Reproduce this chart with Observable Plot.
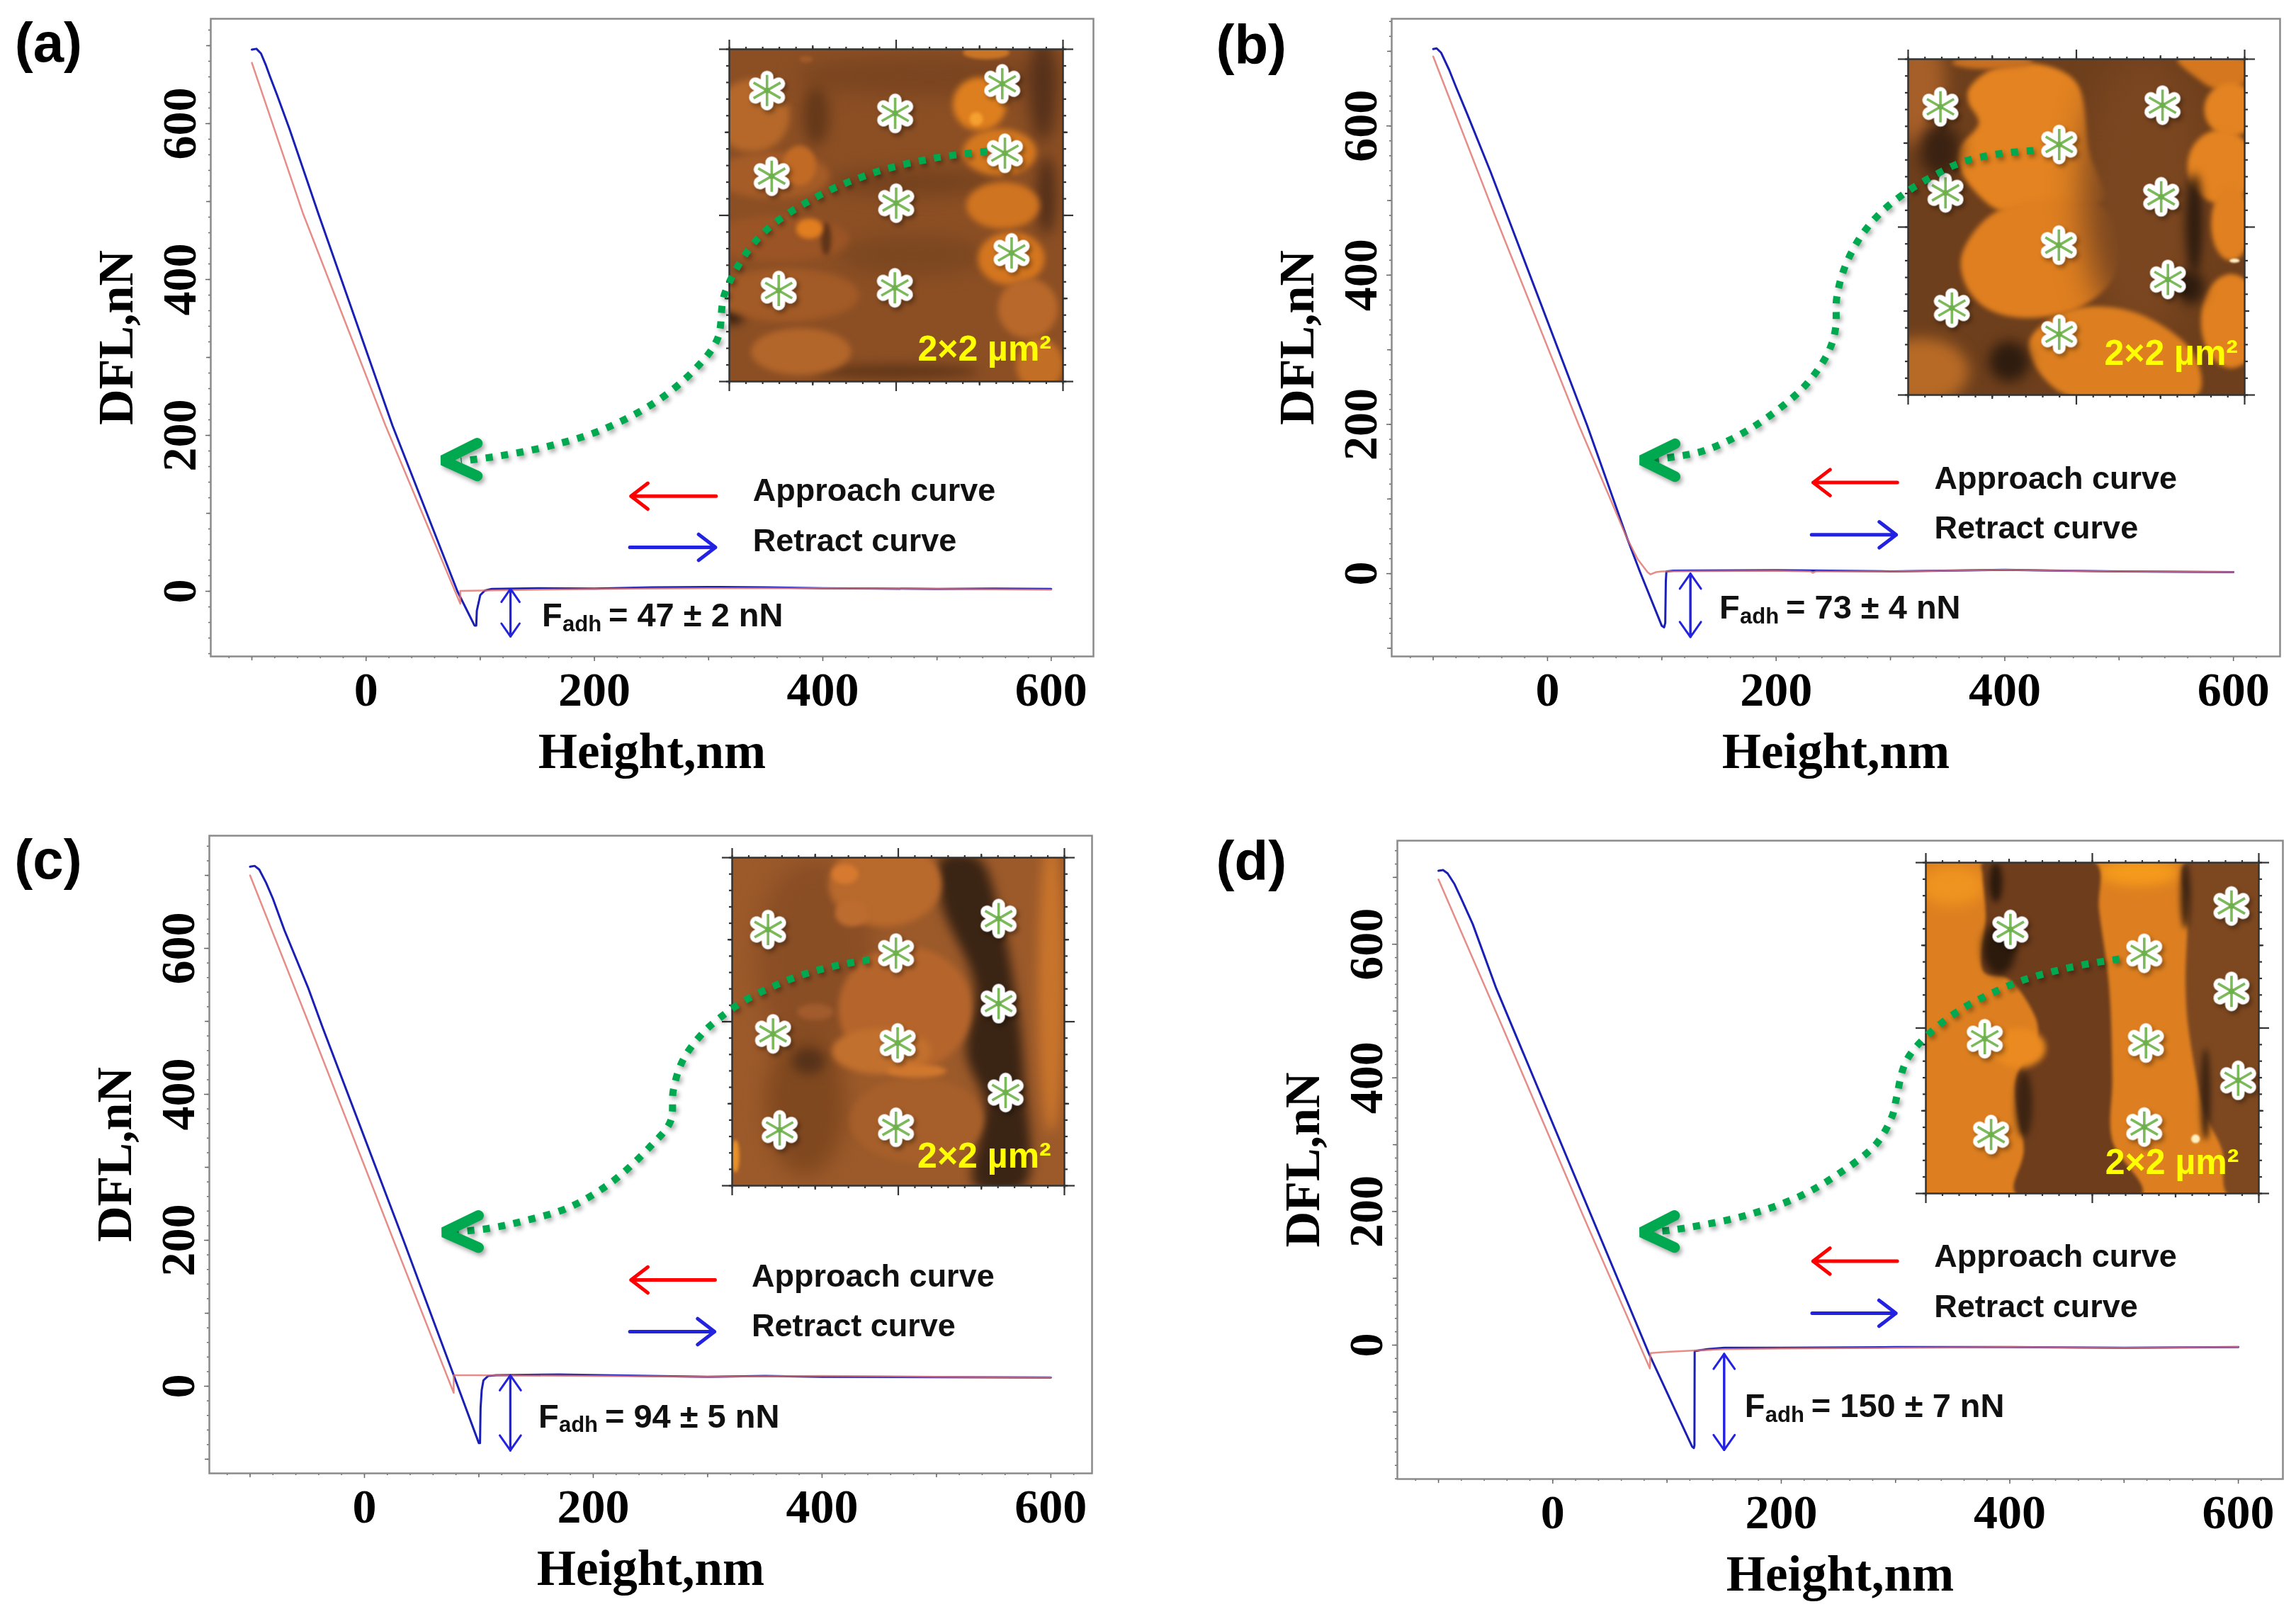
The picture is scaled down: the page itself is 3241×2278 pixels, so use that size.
<!DOCTYPE html>
<html>
<head>
<meta charset="utf-8">
<script src="https://cdn.jsdelivr.net/npm/d3@7"></script>
<script src="https://cdn.jsdelivr.net/npm/@observablehq/plot@0.6"></script>
<style>
html,body{margin:0;padding:0;background:#fff}
#page{position:relative;width:3241px;height:2278px;background:#fff;overflow:hidden}
</style>
</head>
<body>
<div id="page"></div>
<script>
// ---------- force curves: [Height nm, DFL nN] ----------
const approachA = [[-100,678],[-55.4,485.5],[17,212.7],[82.5,-16],[82.5,0.5],[100,1],[200,3],[300,4],[400,4],[500,3],[600,2]];
const retractA  = [[-100,695],[-96,696],[-92,690],[-88,676],[-84,660],[-78,637],[-67,593],[-42,485.5],[23.1,212.7],[80,0],[95,-44],[96.5,-44],[97,-25],[100,-5],[104,1],[110,3],[150,4],[200,3.5],[250,5],[300,5.5],[350,5],[400,4],[450,3.5],[500,3],[550,3.5],[600,3]];
const approachB = [[-100,693],[-46.9,483.4],[27.5,198.5],[70,46],[79,19],[87.5,2],[90,-1],[95,2],[100,3],[200,4],[230,3],[232,1],[235,3],[300,3],[400,5],[500,3],[600,2]];
const retractB  = [[-100,703],[-97,704],[-93,698],[-86,675],[-80,652],[-70,615],[-49.7,538],[-36.1,483.4],[34.7,198.5],[70,46],[81,2],[100,-70],[102,-72],[103,-66],[103.5,-10],[104,3],[110,4],[200,4.5],[300,3],[400,5],[500,3],[600,2]];
const approachC = [[-100,700],[-47.2,491.3],[25.4,200],[78,-9],[78,15],[100,15],[200,14],[300,13],[400,14],[500,13],[600,12]];
const retractC  = [[-100,712],[-96,713],[-92,708],[-86,690],[-80,668],[-70,625],[-49,545],[-36.5,491.3],[34.1,200],[78,15],[100,-78],[101,-78],[101.5,-30],[102.5,-5],[104,8],[108,14],[115,15],[170,16],[250,14],[300,13],[350,14],[400,13],[500,12.5],[600,12]];
const approachD = [[-100,697],[-45,480],[25,200],[85,-35],[85.5,-12],[100,-10],[150,-6],[200,-5],[300,-4],[400,-3],[500,-4],[600,-3]];
const retractD  = [[-100,710],[-96,711],[-92,706],[-86,690],[-80,668],[-70,630],[-49.5,534],[84,-12],[122,-152],[123.5,-154],[124,-150],[124.2,-9],[135,-6],[150,-4],[200,-4],[300,-3],[400,-3],[500,-4],[600,-3]];

// ---------- labels ----------
const panelLetters = ["(a)","(b)","(c)","(d)"];
const forceTexts = ["= 47 ± 2 nN","= 73 ± 4 nN","= 94 ± 5 nN","= 150 ± 7 nN"];
const xTickLabels = [0,200,400,600];
const yTickLabels = [0,200,400,600];
const scanLabel = "2×2 µm²";

// ---------- green dotted guide curves: [nm, nN] ----------
const guideA = [[544,564.5],[498.8,556],[444.8,537],[391.4,503.6],[344.9,455.5],[314.5,383.6],[307.7,323.6],[287.8,284.5],[252.5,241.8],[205.3,206.4],[160.7,186.4],[116.6,173.6],[83,167]];
const guideB = [[425.2,567],[392.3,562],[363.2,551.8],[338.4,533.7],[313.6,511],[290,481.5],[272.4,448],[259.4,408],[252.9,368.5],[252,328.6],[246,298],[231,262],[211.3,231.7],[174.8,191.8],[137.6,165],[111.6,156.7],[88,152]];
const guideC = [[441.5,584.5],[410.5,575.7],[383.3,564],[356.7,547.6],[330.7,527],[310,504],[296.6,485.4],[278.6,447.6],[270,405.8],[267.5,363],[249.5,328],[216,279.6],[178.3,244.7],[140.6,227],[109.6,216.5],[78,211]];
const guideD = [[496,578],[465,569.5],[437.2,558.9],[409.4,545],[382,525],[357.3,502.6],[333.8,473],[314,438],[307,415.7],[300.3,365.9],[297.2,343.6],[283,301],[249.5,255.6],[213.5,220.6],[168.9,194],[128.6,179],[102,171.8],[84,169]];
const headA = [[97.4,190],[67.3,168],[97.4,148]];
const headB = [[111.6,174],[82.4,152],[111.6,130]];
const headC = [[99.7,234],[69.3,211],[99.7,190]];
const headD = [[106.6,194],[77.8,169],[106.6,146]];

// ---------- annotation anchors, in data units ----------
const legendA = {redTail:306.5,redTip:232,redY:122,blueTail:231,blueTip:306,blueY:56.4,textX:338.7,y1:129,y2:64.5};
const legendB = {redTail:306,redTip:232.4,redY:122,blueTail:231,blueTip:305,blueY:52,textX:338.4,y1:127,y2:60.8};
const legendC = {redTail:306.5,redTip:233,redY:145.6,blueTail:232,blueTip:306,blueY:74.8,textX:338.5,y1:150.5,y2:82};
const legendD = {redTail:301.5,redTip:227.8,redY:125.7,blueTail:227,blueTip:300.3,blueY:47.7,textX:333.8,y1:132.6,y2:57};
// adhesion arrow x, top, bottom, text x, text y
const adhA = [126.5,3,-58,154,-31];
const adhB = [125,0,-85,150.3,-45.6];
const adhC = [127.5,15,-88,152,-41.7];
const adhD = [150,-13,-157,168,-91.7];
const letterA = [-307.7,702];
const letterB = [-290,707];
const letterC = [-306,720];
const letterD = [-294.7,723];

// ---------- AFM inset contents: % of the 2 µm scan, y downward ----------
const marksA = [[11.3,12.4],[49.7,19.3],[81.8,10.4],[12.7,38.2],[50,46.3],[82.6,31.3],[14.8,72.6],[49.6,71.8],[84.6,61.3]];
const marksB = [[9.6,14.2],[75.6,13.7],[44.9,25.4],[75.2,41],[11.1,39.8],[44.8,55.4],[77.2,65.6],[13,74.1],[44.9,81.9]];
const marksC = [[10.8,21.9],[49.3,29.1],[80.2,18.6],[80.2,44.5],[12.3,53.7],[49.8,56.5],[82.3,71.6],[14.3,83],[49.3,82.2]];
const marksD = [[25.4,20.2],[65.6,27.4],[91.8,13.1],[91.8,38.9],[17.7,53.2],[66.1,54.5],[93.8,65.8],[19.6,82.2],[65.6,79.9]];

function ell(fill,cx,cy,rx,ry,blur=5){
  const pts=[];
  for(let i=0;i<16;i++){const t=i/16*2*Math.PI;pts.push([cx+rx*Math.cos(t),cy+ry*Math.sin(t)]);}
  return {fill,pts,blur};
}
function poly(fill,pts,blur=3){return {fill,pts,blur};}

const afmA = {bg:"#8c4f24",shapes:[
  ell("#7a4520",60,8,40,6,14),ell("#74421e",55,40,25,4,12),ell("#7c4720",55,62,22,6,12),
  ell("#65391a",26,20,4,9,9),ell("#54301a",94,12,4,16,11),ell("#54301a",95,44,3,12,9),ell("#3a2211",1,78,4,5,7),ell("#5e3518",50,97,25,2,8),
  ell("#b5682a",7,20,11,11,5),ell("#a55c27",13,38,17,7,5),ell("#c06a25",21,35,5,6,3),
  ell("#9a5425",15,57,21,7,5),ell("#5e3418",29,57,1.5,5,3),ell("#e07e20",24,54,4,3,3),
  ell("#a25a26",17,74,22,8,5),ell("#b3662a",21.5,91,15,7,4),
  ell("#a15a28",23,3,2,1,2),ell("#c87526",77,1,7,2,2),ell("#de7f1f",75,16.5,8,8,4),ell("#f5a030",74,21,2,2,2),
  ell("#d4781f",81,31,11,7,4),ell("#cf7420",82,47,11,7,4),ell("#d4761f",84.5,63,10,8,4),
  ell("#b8682a",89.5,78,9,9,4),ell("#c26e25",93,95,7,8,4)
]};
const afmB = {bg:"#6e3f1c",shapes:[
  ell("#a65f28",3,8,8,18,12),ell("#b76a26",4,93,14,10,10),
  poly("#e38321",[[18,9],[25,3],[39,1.5],[50,7],[54,28],[58,42],[37,44],[27,45],[16,34],[15,27],[21,19],[18,13]]),
  poly("#df7f20",[[16,58],[27,45],[58,44],[62,63],[51,74],[34,77],[23,74],[17,67]]),
  ell("#7a4620",70,40,18,42,24),
  poly("#dd7f20",[[36,84],[40,79],[51,74],[69,76],[85,88],[86,100],[47,100],[37,90]]),
  ell("#c87022",25,1,12,2,3),
  poly("#d4771f",[[80,0],[100,0],[100,7],[92,9],[85,5]]),
  ell("#e38321",96,15,8,8,3),ell("#e38321",93,32,10,11,3),ell("#e08020",96,49,6,11,3),
  ell("#e08020",96,78,9,14,3),
  ell("#3a2212",9.5,27,6,8,10),ell("#2e1c0f",85,49,2.5,15,7),ell("#2e1c0f",84,68,4,5,8),ell("#2e1c0f",30,90,6,6,9),
  ell("#fff0c8",97,60,1.5,.6,1)
]};
const afmC = {bg:"#9c5a2a",shapes:[
  ell("#8a4e25",25,30,18,30,16),ell("#80481f",22,75,12,22,14),
  poly("#3a2414",[[63,0],[74,0],[80.5,17],[86,46],[88,68],[88,100],[73,100],[76,75],[70.5,60],[73,39],[63,14]],8),
  ell("#b8692c",46,8,17,13,4),ell("#d77a30",34,5,4,3,3),ell("#bd6c30",36,17,5,4,3),
  ell("#b5652c",52,46,20,19,4),ell("#c2702e",45,59,15,7,4),ell("#a65f2a",55.5,80,20,13,4),
  ell("#d0772e",55.5,65,9,2,3),ell("#a15b2c",25,47,5.5,2.5,3),ell("#56321a",23,62,5,4,8),
  ell("#c8742c",96,39,4,45,8),ell("#e8902a",1,91,1.2,5,2)
]};
const afmD = {bg:"#dd7f20",shapes:[
  ell("#ef9420",8,7,10,6,10),ell("#f49a1c",64,3,12,4,8),
  poly("#6e3d1c",[[17,0],[51,0],[52,14],[55,37],[56,65],[56,84],[65,100],[27,100],[29.4,87],[27,66],[33.7,51],[31,43],[24.5,35],[17.4,33],[18,16],[17,3.5]],2),
  ell("#2c1a0c",22,26,5,8,6),ell("#3d2412",29.5,73,2.5,10,5),ell("#2c1a0c",21,6,2,6,4),
  poly("#7d4820",[[78,0],[100,0],[100,100],[90.5,100],[89,87],[84,76],[79,51],[78,37],[78.5,12],[77,5]],2),
  ell("#3d2412",78,10,1.5,10,4),ell("#3d2412",84,70,1.5,14,4),
  ell("#ea8a20",28,56,8,6,4),ell("#fff0c0",81,83.5,1.3,1.3,1)
]};

// ---------- page layout (px) ----------
const layout = [
  {left:0,   top:0,    fl:297, fr:1543,ft:26,  fb:926, xd:[-136,637],yd:[-83.6,734.5],
   inset:{l:1029,r:1500,t:69,b:538},scanEnd:[96.5,90.4]},
  {left:1640,top:0,    fl:1964,fr:3218,ft:26,  fb:926, xd:[-136.3,640.8],yd:[-111,743.6],
   inset:{l:2693,r:3168,t:83,b:557},scanEnd:[98,87.7]},
  {left:0,   top:1130, fl:295, fr:1541,ft:1179,fb:2079,xd:[-135.6,636],yd:[-119.4,754.4],
   inset:{l:1033,r:1502,t:1210,b:1673},scanEnd:[96,91]},
  {left:1640,top:1130, fl:1972,fr:3222,ft:1186,fb:2087,xd:[-136,639],yd:[-200.4,755],
   inset:{l:2718,r:3188,t:1217,b:1684},scanEnd:[94,90.6]}
];

const page = document.getElementById("page");
const X = d=>d[0], Y = d=>d[1];
const SANS = "Liberation Sans", SERIF = "Liberation Serif";
const GREEN = "#00a94f";
const SHADOW = "drop-shadow(3px 4px 3px rgba(0,0,0,.35))";

function asterisk(len){
  return {draw(c){
    for(let i=0;i<6;i++){
      const t=i*Math.PI/3;
      c.moveTo(0,0);
      c.lineTo(len*Math.sin(t),-len*Math.cos(t));
    }
  }};
}

function drawInset(g,afm,marks,scanEnd){
  const m=18;
  const w=g.r-g.l, h=g.b-g.t;
  const sides=["top","bottom"], vsides=["left","right"];
  const tickSets=[
    {t:d3.range(0,101,5),s:4},
    {t:[25,75],s:6},
    {t:[0,50,100],s:14}
  ];
  const svg=Plot.plot({
    width:w+2*m,height:h+2*m,
    marginLeft:m,marginRight:m,marginTop:m,marginBottom:m,
    style:{position:"absolute",left:(g.l-m)+"px",top:(g.t-m)+"px",background:"transparent",overflow:"visible"},
    x:{domain:[0,100],axis:null},
    y:{domain:[0,100],reverse:true,axis:null},
    marks:[
      Plot.frame({fill:afm.bg,stroke:"none"}),
      ...afm.shapes.map(s=>Plot.line(s.pts,{x:X,y:Y,fill:s.fill,stroke:"none",curve:"catmull-rom-closed",clip:"frame",imageFilter:`blur(${s.blur}px)`})),
      ...tickSets.flatMap(ts=>[
        ...sides.map(a=>Plot.axisX({anchor:a,ticks:ts.t,tickSize:ts.s,fill:"none",stroke:"#333",strokeWidth:2.2})),
        ...vsides.map(a=>Plot.axisY({anchor:a,ticks:ts.t,tickSize:ts.s,fill:"none",stroke:"#333",strokeWidth:2.2}))
      ]),
      Plot.frame({stroke:"#333",strokeWidth:2.5}),
      Plot.dot(marks,{x:X,y:Y,symbol:asterisk(19),fill:"none",stroke:"white",strokeWidth:18,strokeLinecap:"round",imageFilter:SHADOW}),
      Plot.dot(marks,{x:X,y:Y,symbol:asterisk(22),fill:"none",stroke:"#7cb95a",strokeWidth:3.6,strokeLinecap:"butt"}),
      Plot.dot(marks,{x:X,y:Y,r:4,fill:"#6fb04e",stroke:"none"}),
      Plot.text([scanLabel],{x:scanEnd[0],y:scanEnd[1],text:d=>d,textAnchor:"end",fontFamily:SANS,fontWeight:"bold",fontSize:50,fill:"#ffff00"})
    ]
  });
  page.appendChild(svg);
}

function drawPanel(i,approach,retract,guide,head,legend,adh,letter,marks,afm){
  const L=layout[i];
  const ml=L.fl-L.left, mt=L.ft-L.top;
  const mb=170, mr=14;
  const width=L.fr-L.left+mr, height=L.fb-L.top+mb;
  const fontAxis={fontFamily:SERIF,fontWeight:"bold",fontSize:68,fill:"black"};
  drawInset(L.inset,afm,marks,L.scanEnd);
  const svg=Plot.plot({
    width,height,
    marginLeft:ml,marginRight:mr,marginTop:mt,marginBottom:mb,
    style:{position:"absolute",left:L.left+"px",top:L.top+"px",background:"transparent",overflow:"visible"},
    x:{domain:L.xd},
    y:{domain:L.yd},
    marks:[
      Plot.axisX({ticks:d3.range(-120,621,20),tickSize:3,fill:"none",stroke:"#666",strokeWidth:1.5}),
      Plot.axisX({ticks:[-100,100,300,500],tickSize:6,fill:"none",stroke:"#666",strokeWidth:1.5}),
      Plot.axisX({ticks:xTickLabels,tickSize:7,tickPadding:14,stroke:"#666",strokeWidth:1.5,...fontAxis,tickFormat:d=>String(d),label:null}),
      Plot.axisY({ticks:d3.range(-200,741,20).filter(v=>v>=L.yd[0]&&v<=L.yd[1]),tickSize:3,fill:"none",stroke:"#666",strokeWidth:1.5}),
      Plot.axisY({ticks:[-100,100,300,500,700].filter(v=>v>=L.yd[0]&&v<=L.yd[1]),tickSize:6,fill:"none",stroke:"#666",strokeWidth:1.5}),
      Plot.axisY({ticks:yTickLabels,tickSize:7,tickRotate:-90,tickPadding:15,stroke:"#666",strokeWidth:1.5,...fontAxis,tickFormat:d=>String(d),label:null}),
      Plot.frame({stroke:"#8a8a8a",strokeWidth:2.5}),
      Plot.text(["Height,nm"],{frameAnchor:"bottom",dy:157,text:d=>d,fontFamily:SERIF,fontWeight:"bold",fontSize:71,fill:"black"}),
      Plot.text(["DFL,nN"],{frameAnchor:"left",dx:-133,rotate:-90,textAnchor:"middle",text:d=>d,fontFamily:SERIF,fontWeight:"bold",fontSize:70,fill:"black"}),
      Plot.text([panelLetters[i]],{x:letter[0],y:letter[1],text:d=>d,textAnchor:"start",fontFamily:SANS,fontWeight:"bold",fontSize:78,fill:"black"}),
      Plot.line(retract,{x:X,y:Y,stroke:"#1a20b4",strokeWidth:3}),
      Plot.line(approach,{x:X,y:Y,stroke:"#e0706a",strokeWidth:2.5,strokeOpacity:.8}),
      Plot.line(guide,{x:X,y:Y,curve:"catmull-rom",stroke:GREEN,strokeWidth:10,strokeDasharray:"10 12",strokeLinecap:"butt",imageFilter:SHADOW}),
      Plot.line(head,{x:X,y:Y,stroke:GREEN,strokeWidth:15,strokeLinecap:"round",strokeLinejoin:"miter",imageFilter:SHADOW}),
      Plot.arrow([legend],{x1:d=>d.redTail,x2:d=>d.redTip,y1:d=>d.redY,y2:d=>d.redY,stroke:"#ff0000",strokeWidth:5,headLength:9,headAngle:75}),
      Plot.arrow([legend],{x1:d=>d.blueTail,x2:d=>d.blueTip,y1:d=>d.blueY,y2:d=>d.blueY,stroke:"#2222e0",strokeWidth:5,headLength:9,headAngle:75}),
      Plot.text(["Approach curve"],{x:legend.textX,y:legend.y1,text:d=>d,textAnchor:"start",fontFamily:SANS,fontWeight:"bold",fontSize:45,fill:"#111"}),
      Plot.text(["Retract curve"],{x:legend.textX,y:legend.y2,text:d=>d,textAnchor:"start",fontFamily:SANS,fontWeight:"bold",fontSize:45,fill:"#111"}),
      Plot.arrow([adh],{x1:d=>d[0],x2:d=>d[0],y1:d=>d[2],y2:d=>d[1],stroke:"#2222e0",strokeWidth:3,headLength:13,headAngle:70}),
      Plot.arrow([adh],{x1:d=>d[0],x2:d=>d[0],y1:d=>d[1],y2:d=>d[2],stroke:"#2222e0",strokeWidth:3,headLength:13,headAngle:70}),
      Plot.text(["F"],{x:adh[3],y:adh[4],text:d=>d,textAnchor:"start",fontFamily:SANS,fontWeight:"bold",fontSize:47,fill:"#111"}),
      Plot.text(["adh"],{x:adh[3],y:adh[4],dx:29,dy:12,text:d=>d,textAnchor:"start",fontFamily:SANS,fontWeight:"bold",fontSize:31,fill:"#111"}),
      Plot.text([forceTexts[i]],{x:adh[3],y:adh[4],dx:94,text:d=>d,textAnchor:"start",fontFamily:SANS,fontWeight:"bold",fontSize:47,fill:"#111"})
    ]
  });
  page.appendChild(svg);
}

drawPanel(0,approachA,retractA,guideA,headA,legendA,adhA,letterA,marksA,afmA);
drawPanel(1,approachB,retractB,guideB,headB,legendB,adhB,letterB,marksB,afmB);
drawPanel(2,approachC,retractC,guideC,headC,legendC,adhC,letterC,marksC,afmC);
drawPanel(3,approachD,retractD,guideD,headD,legendD,adhD,letterD,marksD,afmD);
</script>
</body>
</html>
